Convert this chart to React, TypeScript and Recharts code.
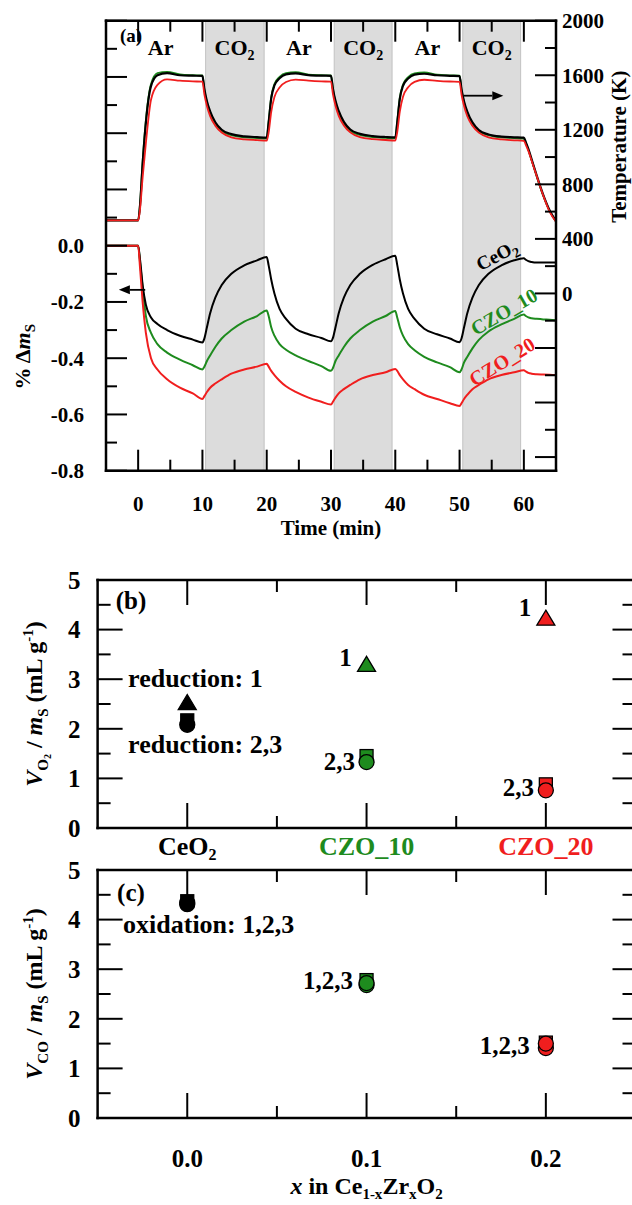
import React from "react";
import {
  ComposedChart,
  ScatterChart,
  Line,
  Scatter,
  XAxis,
  YAxis,
  ReferenceArea,
  ReferenceDot,
  ReferenceLine,
} from "recharts";

const SERIF = "'Liberation Serif', 'Times New Roman', Times, serif";
const INK = "#000000";
const GREEN = "#1e8b1e";
const RED = "#f01e1e";
const MAT_COLORS = [INK, GREEN, RED];

// ---------- (a) mass change + temperature vs time ----------
const times = [
  -5, 0, 0.3, 0.7, 1.2, 2, 3, 4.5, 6.5, 8.5,
  10, 10.3, 10.7, 11.2, 12, 13, 14.5, 16.5, 18.5,
  20, 20.3, 20.7, 21.2, 22, 23, 24.5, 26.5, 28.5,
  30, 30.3, 30.7, 31.2, 32, 33, 34.5, 36.5, 38.5,
  40, 40.3, 40.7, 41.2, 42, 43, 44.5, 46.5, 48.5,
  50, 50.3, 50.7, 51.2, 52, 53, 54.5, 56.5, 58.5,
  60, 60.3, 60.7, 61.2, 62, 63, 64, 65,
];

const massCeO2 = [
  0, 0, -0.05, -0.14, -0.21, -0.255, -0.278, -0.3, -0.32, -0.334,
  -0.344, -0.33, -0.29, -0.24, -0.185, -0.14, -0.1, -0.07, -0.052,
  -0.04, -0.07, -0.12, -0.17, -0.225, -0.26, -0.295, -0.315, -0.328,
  -0.34, -0.328, -0.29, -0.24, -0.185, -0.14, -0.1, -0.068, -0.048,
  -0.036, -0.068, -0.12, -0.17, -0.225, -0.26, -0.295, -0.315, -0.33,
  -0.343, -0.33, -0.29, -0.24, -0.185, -0.14, -0.1, -0.07, -0.052,
  -0.045, -0.05, -0.055, -0.058, -0.06, -0.06, -0.06, -0.06,
];
const massCZO10 = [
  0, 0, -0.06, -0.15, -0.25, -0.31, -0.35, -0.38, -0.405, -0.425,
  -0.44, -0.43, -0.41, -0.39, -0.36, -0.33, -0.3, -0.27, -0.25,
  -0.23, -0.25, -0.29, -0.32, -0.35, -0.37, -0.39, -0.41, -0.428,
  -0.445, -0.435, -0.41, -0.39, -0.36, -0.33, -0.3, -0.27, -0.25,
  -0.232, -0.255, -0.29, -0.32, -0.35, -0.372, -0.395, -0.415, -0.432,
  -0.45, -0.44, -0.415, -0.395, -0.365, -0.335, -0.305, -0.28, -0.26,
  -0.245, -0.25, -0.255, -0.258, -0.26, -0.262, -0.263, -0.265,
];
const massCZO20 = [
  0, 0, -0.08, -0.2, -0.31, -0.4, -0.44, -0.475, -0.505, -0.525,
  -0.545, -0.535, -0.52, -0.505, -0.49, -0.475, -0.455, -0.44, -0.43,
  -0.42, -0.43, -0.445, -0.46, -0.48, -0.5, -0.52, -0.54, -0.555,
  -0.565, -0.555, -0.54, -0.525, -0.51, -0.495, -0.475, -0.46, -0.45,
  -0.438, -0.445, -0.46, -0.475, -0.495, -0.51, -0.53, -0.545, -0.56,
  -0.57, -0.56, -0.545, -0.53, -0.51, -0.495, -0.475, -0.46, -0.45,
  -0.443, -0.447, -0.452, -0.455, -0.457, -0.458, -0.459, -0.46,
];

const tempCeO2 = [
  535, 535, 650, 950, 1250, 1520, 1600, 1615, 1600, 1597,
  1595, 1500, 1410, 1335, 1255, 1200, 1168, 1152, 1146,
  1143, 1255, 1430, 1525, 1578, 1606, 1613, 1601, 1597,
  1596, 1502, 1412, 1338, 1258, 1202, 1170, 1154, 1147,
  1144, 1252, 1425, 1522, 1576, 1605, 1611, 1600, 1596,
  1594, 1498, 1408, 1334, 1254, 1198, 1166, 1150, 1145,
  1142, 1110, 1060, 985, 865, 725, 610, 530,
];
const tempCZO10 = [
  535, 535, 660, 970, 1270, 1535, 1615, 1625, 1606, 1600,
  1598, 1495, 1400, 1325, 1245, 1190, 1160, 1145, 1139,
  1136, 1260, 1440, 1535, 1588, 1616, 1622, 1605, 1600,
  1598, 1497, 1402, 1328, 1248, 1193, 1162, 1146, 1140,
  1137, 1258, 1435, 1532, 1586, 1614, 1620, 1604, 1599,
  1597, 1494, 1399, 1325, 1246, 1190, 1160, 1144, 1139,
  1136, 1105, 1052, 978, 858, 718, 605, 528,
];
const tempCZO20 = [
  535, 535, 620, 850, 1100, 1420, 1530, 1570, 1560, 1555,
  1553, 1460, 1375, 1300, 1230, 1180, 1145, 1130, 1124,
  1120, 1180, 1330, 1440, 1510, 1550, 1568, 1560, 1555,
  1553, 1461, 1377, 1302, 1232, 1181, 1146, 1131, 1125,
  1121, 1182, 1332, 1442, 1512, 1551, 1567, 1559, 1554,
  1552, 1459, 1374, 1299, 1229, 1179, 1144, 1129, 1123,
  1119, 1090, 1045, 975, 860, 720, 600, 525,
];

const co2Windows: [number, number][] = [
  [10.5, 19.6],
  [30.5, 39.5],
  [50.5, 59.5],
];
const gasNames = ["Ar", "CO2", "Ar", "CO2", "Ar", "CO2"];
const gasLabelTimes = [3.5, 15, 25, 35, 45, 55];

const timeTicks = [0, 5, 10, 15, 20, 25, 30, 35, 40, 45, 50, 55, 60];
const massTicks = [
  -0.8, -0.7, -0.6, -0.5, -0.4, -0.3, -0.2, -0.1, 0, 0.1, 0.2, 0.3, 0.4, 0.5, 0.6, 0.7, 0.8,
];
const tempTicks = [
  -1200, -1000, -800, -600, -400, -200, 0, 200, 400, 600, 800, 1000, 1200, 1400, 1600, 1800, 2000,
];

// ---------- (b), (c) released gas volumes ----------
const materials = ["CeO2", "CZO_10", "CZO_20"];
const zrFraction = [0, 0.1, 0.2];
const reductionRun1 = [2.54, 3.31, 4.24];
const reductionRun2 = [2.17, 1.45, 0.88];
const reductionRun3 = [2.08, 1.33, 0.76];
const oxidationRun1 = [4.31, 2.68, 1.41];
const oxidationRun2 = [4.37, 2.78, 1.52];
const oxidationRun3 = [4.34, 2.72, 1.5];
const fracTicks = [0, 0.05, 0.1, 0.15, 0.2];
const volTicks = [0, 0.5, 1, 1.5, 2, 2.5, 3, 3.5, 4, 4.5, 5];

const AXIS = { stroke: INK, strokeWidth: 2.5, strokeLinecap: "square" as const };

// "CeO2" -> CeO with subscript 2
function chem(s: string, sub = 14) {
  const m = s.match(/^(.*?[A-Za-z])(\d)$/);
  if (!m) return s;
  return [
    <tspan key="a">{m[1]}</tspan>,
    <tspan key="b" dy={5} fontSize={sub}>
      {m[2]}
    </tspan>,
  ];
}

type Side = "left" | "right" | "top" | "bottom";

// inward ticks (long/short) drawn from the axis line, optional label outside
function axisTicks(
  side: Side,
  long: number,
  short: number,
  isMajor: (v: number) => boolean,
  label?: (v: number) => React.ReactNode,
  gap = 0,
  fontSize = 20
) {
  return (p: any) => {
    const v = Number(p.payload.value);
    const len = isMajor(v) ? long : short;
    const { x, y } = p;
    let x2 = x;
    let y2 = y;
    let tx = x;
    let ty = y;
    let anchor: "start" | "middle" | "end" = "middle";
    if (side === "bottom") {
      y2 = y - len;
      ty = y + gap;
    } else if (side === "top") {
      y2 = y + len;
      ty = y - gap;
    } else if (side === "left") {
      x2 = x + len;
      tx = x - gap;
      anchor = "end";
    } else {
      x2 = x - len;
      tx = x + gap;
      anchor = "start";
    }
    const txt = label ? label(v) : null;
    return (
      <g>
        <line x1={x} y1={y} x2={x2} y2={y2} stroke={INK} strokeWidth={2} />
        {txt != null && (
          <text
            x={tx}
            y={ty}
            dy="0.35em"
            textAnchor={anchor}
            fontFamily={SERIF}
            fontWeight="bold"
            fontSize={fontSize}
            fill={INK}
          >
            {txt}
          </text>
        )}
      </g>
    );
  };
}

function note(
  key: string,
  xId: string,
  yId: string,
  x: number,
  y: number,
  content: React.ReactNode,
  opts: { size?: number; anchor?: "start" | "middle" | "end"; angle?: number; fill?: string } = {}
) {
  return (
    <ReferenceDot
      key={key}
      xAxisId={xId}
      yAxisId={yId}
      x={x}
      y={y}
      r={0}
      ifOverflow="visible"
      isFront
      shape={(p: any) => (
        <text
          x={p.cx}
          y={p.cy}
          dy="0.35em"
          textAnchor={opts.anchor ?? "middle"}
          fontFamily={SERIF}
          fontWeight="bold"
          fontSize={opts.size ?? 25}
          fill={opts.fill ?? INK}
          transform={opts.angle ? `rotate(${opts.angle} ${p.cx} ${p.cy})` : undefined}
        >
          {content}
        </text>
      )}
    />
  );
}

const Arrow = (p: any) => {
  const { x1, y1, x2, y2 } = p;
  const ang = Math.atan2(y2 - y1, x2 - x1);
  const L = 11;
  const W = 4.5;
  const bx = x2 - L * Math.cos(ang);
  const by = y2 - L * Math.sin(ang);
  const px = -Math.sin(ang) * W;
  const py = Math.cos(ang) * W;
  return (
    <g>
      <line x1={x1} y1={y1} x2={bx} y2={by} stroke={INK} strokeWidth={1.8} />
      <polygon points={`${x2},${y2} ${bx + px},${by + py} ${bx - px},${by - py}`} fill={INK} />
    </g>
  );
};

const isEven02 = (v: number) => Math.round(v * 10) % 2 === 0;

function PanelA() {
  const rows = times.map((t, i) => ({
    t,
    mCe: massCeO2[i],
    m10: massCZO10[i],
    m20: massCZO20[i],
    TCe: tempCeO2[i],
    T10: tempCZO10[i],
    T20: tempCZO20[i],
  }));
  return (
    <ComposedChart
      width={632}
      height={560}
      data={rows}
      margin={{ top: 0.7, right: 36, bottom: 59.3, left: 66 }}
    >
      {co2Windows.map(([a, b]) => (
        <ReferenceArea
          key={a}
          xAxisId="b"
          yAxisId="m"
          x1={a}
          x2={b}
          fill="#dcdcdc"
          fillOpacity={1}
          stroke="#c2c2c2"
          strokeWidth={1}
          ifOverflow="visible"
        />
      ))}
      <XAxis
        xAxisId="b"
        dataKey="t"
        type="number"
        domain={[-5, 65]}
        allowDataOverflow
        ticks={timeTicks}
        interval={0}
        height={30}
        tickSize={0}
        tickMargin={0}
        tickLine={false}
        axisLine={AXIS}
        tick={axisTicks("bottom", 21, 11, (v) => v % 10 === 0, (v) => (v % 10 === 0 ? String(v) : null), 33, 21)}
        label={(p: any) => {
          const vb = p.viewBox ?? { x: 0, y: 0, width: 0 };
          return (
            <text x={vb.x + vb.width / 2} y={vb.y + 57} dy="0.35em" textAnchor="middle" fontFamily={SERIF} fontWeight="bold" fontSize={21}>
              Time (min)
            </text>
          );
        }}
      />
      <XAxis
        xAxisId="t"
        orientation="top"
        dataKey="t"
        type="number"
        domain={[-5, 65]}
        allowDataOverflow
        ticks={timeTicks}
        interval={0}
        height={20}
        tickSize={0}
        tickMargin={0}
        tickLine={false}
        axisLine={AXIS}
        tick={axisTicks("top", 21, 11, (v) => v % 10 === 0)}
      />
      <YAxis
        yAxisId="m"
        type="number"
        domain={[-0.8, 0.8]}
        allowDataOverflow
        ticks={massTicks}
        interval={0}
        width={40}
        tickSize={0}
        tickMargin={0}
        tickLine={false}
        axisLine={AXIS}
        tick={axisTicks("left", 21, 11, isEven02, (v) => (isEven02(v) && v <= 0 ? (v === 0 ? "0.0" : v.toFixed(1)) : null), 22, 21)}
        label={(p: any) => {
          const vb = p.viewBox ?? { x: 0, y: 0, width: 0 };
          const cx = vb.x + vb.width - 84;
          const cy = vb.y + 336;
          return (
            <text x={cx} y={cy} dy="0.35em" textAnchor="middle" fontFamily={SERIF} fontWeight="bold" fontSize={22} transform={`rotate(-90 ${cx} ${cy})`}>
              <tspan>% Δ</tspan>
              <tspan fontStyle="italic">m</tspan>
              <tspan dy={5} fontSize={15}>S</tspan>
            </text>
          );
        }}
      />
      <YAxis
        yAxisId="T"
        orientation="right"
        type="number"
        domain={[-1300, 2000]}
        allowDataOverflow
        ticks={tempTicks}
        interval={0}
        width={40}
        tickSize={0}
        tickMargin={0}
        tickLine={false}
        axisLine={AXIS}
        tick={axisTicks("right", 21, 11, (v) => v % 400 === 0, (v) => (v >= 0 && v % 400 === 0 ? String(v) : null), 6, 21)}
        label={(p: any) => {
          const vb = p.viewBox ?? { x: 0, y: 0, width: 0 };
          const cx = vb.x + 63;
          const cy = vb.y + 126;
          return (
            <text x={cx} y={cy} dy="0.35em" textAnchor="middle" fontFamily={SERIF} fontWeight="bold" fontSize={21} transform={`rotate(-90 ${cx} ${cy})`}>
              Temperature (K)
            </text>
          );
        }}
      />

      <Line xAxisId="b" yAxisId="T" dataKey="T10" type="monotone" stroke={GREEN} strokeWidth={1.8} dot={false} isAnimationActive={false} />
      <Line xAxisId="b" yAxisId="T" dataKey="TCe" type="monotone" stroke={INK} strokeWidth={2.2} dot={false} isAnimationActive={false} />
      <Line xAxisId="b" yAxisId="T" dataKey="T20" type="monotone" stroke={RED} strokeWidth={1.8} dot={false} isAnimationActive={false} />
      <Line xAxisId="b" yAxisId="m" dataKey="m10" type="monotone" stroke={GREEN} strokeWidth={2} dot={false} isAnimationActive={false} />
      <Line xAxisId="b" yAxisId="m" dataKey="mCe" type="monotone" stroke={INK} strokeWidth={2} dot={false} isAnimationActive={false} />
      <Line xAxisId="b" yAxisId="m" dataKey="m20" type="monotone" stroke={RED} strokeWidth={2} dot={false} isAnimationActive={false} />

      <ReferenceLine
        xAxisId="b"
        yAxisId="T"
        segment={[{ x: 50.6, y: 1450 }, { x: 56.8, y: 1450 }]}
        shape={Arrow}
        ifOverflow="visible"
      />
      <ReferenceLine
        xAxisId="b"
        yAxisId="m"
        segment={[{ x: 1.1, y: -0.157 }, { x: -3.0, y: -0.157 }]}
        shape={Arrow}
        ifOverflow="visible"
      />

      {note("a-tag", "b", "m", -1.1, 0.749, "(a)", { size: 19 })}
      {gasNames.map((g, i) => note(`gas${i}`, "b", "m", gasLabelTimes[i], 0.7065, chem(g, 14), { size: 22 }))}
      {note("lbl-ce", "b", "m", 55.8, -0.033, chem("CeO2", 14), { size: 19, angle: -28 })}
      {note("lbl-10", "b", "m", 56.9, -0.234, "CZO_10", { size: 20, angle: -30, fill: GREEN })}
      {note("lbl-20", "b", "m", 56.6, -0.412, "CZO_20", { size: 20, angle: -32, fill: RED })}
    </ComposedChart>
  );
}

const markerColor = (p: any) => MAT_COLORS[p.payload?.k ?? 0];
const Tri = (p: any) => {
  const { cx, cy } = p;
  const w = 18;
  const h = 15;
  return (
    <polygon
      points={`${cx},${cy - h / 2} ${cx + w / 2},${cy + h / 2} ${cx - w / 2},${cy + h / 2}`}
      fill={markerColor(p)}
      stroke={INK}
      strokeWidth={1.3}
    />
  );
};
const Sq = (p: any) => (
  <rect x={p.cx - 6.5} y={p.cy - 6.5} width={13} height={13} fill={markerColor(p)} stroke={INK} strokeWidth={1.3} />
);
const Circ = (p: any) => <circle cx={p.cx} cy={p.cy} r={7.5} fill={markerColor(p)} stroke={INK} strokeWidth={1.3} />;

const pts = (vals: number[]) => zrFraction.map((x, i) => ({ x, y: vals[i], k: i }));
const matIndex = (v: number) => zrFraction.findIndex((z) => Math.abs(z - v) < 1e-9);

function bcAxes(bottomTick: any, bottomTitle: ((p: any) => React.ReactNode) | undefined, yTitle: React.ReactNode) {
  return [
    <XAxis
      key="xb"
      xAxisId="b"
      dataKey="x"
      type="number"
      domain={[-0.05, 0.25]}
      allowDataOverflow
      ticks={fracTicks}
      interval={0}
      height={30}
      tickSize={0}
      tickMargin={0}
      tickLine={false}
      axisLine={AXIS}
      tick={bottomTick}
      label={bottomTitle}
    />,
    <XAxis
      key="xt"
      xAxisId="t"
      orientation="top"
      dataKey="x"
      type="number"
      domain={[-0.05, 0.25]}
      allowDataOverflow
      ticks={fracTicks}
      interval={0}
      height={20}
      tickSize={0}
      tickMargin={0}
      tickLine={false}
      axisLine={AXIS}
      tick={axisTicks("top", 25, 12, (v) => matIndex(v) >= 0)}
    />,
    <YAxis
      key="yl"
      yAxisId="l"
      dataKey="y"
      type="number"
      domain={[0, 5]}
      allowDataOverflow
      ticks={volTicks}
      interval={0}
      width={40}
      tickSize={0}
      tickMargin={0}
      tickLine={false}
      axisLine={AXIS}
      tick={axisTicks("left", 25, 13, (v) => Number.isInteger(v), (v) => (Number.isInteger(v) ? String(v) : null), 17, 25)}
      label={(p: any) => {
        const vb = p.viewBox ?? { x: 0, y: 0, width: 0, height: 0 };
        const cx = vb.x + vb.width - 64;
        const cy = vb.y + vb.height / 2;
        return (
          <text x={cx} y={cy} dy="0.35em" textAnchor="middle" fontFamily={SERIF} fontWeight="bold" fontSize={24} transform={`rotate(-90 ${cx} ${cy})`}>
            {yTitle}
          </text>
        );
      }}
    />,
    <YAxis
      key="yr"
      yAxisId="r"
      orientation="right"
      dataKey="y"
      type="number"
      domain={[0, 5]}
      allowDataOverflow
      ticks={volTicks}
      interval={0}
      width={20}
      tickSize={0}
      tickMargin={0}
      tickLine={false}
      axisLine={AXIS}
      tick={axisTicks("right", 23, 13, (v) => Number.isInteger(v))}
    />,
  ];
}

function PanelB() {
  const bottom = axisTicks(
    "bottom",
    25,
    12,
    (v) => matIndex(v) >= 0,
    (v) => {
      const i = matIndex(v);
      return i < 0 ? null : <tspan fill={MAT_COLORS[i]}>{chem(materials[i], 16)}</tspan>;
    },
    18,
    26
  );
  const yTitle = [
    <tspan key="v" fontStyle="italic">V</tspan>,
    <tspan key="o" dy={6} fontSize={15}>O</tspan>,
    <tspan key="2" dy={3} fontSize={10}>2</tspan>,
    <tspan key="s" dy={-9}> / </tspan>,
    <tspan key="m" fontStyle="italic">m</tspan>,
    <tspan key="S" dy={6} fontSize={15}>S</tspan>,
    <tspan key="u" dy={-6}> (mL g</tspan>,
    <tspan key="e" dy={-9} fontSize={15}>-1</tspan>,
    <tspan key="c" dy={9}>)</tspan>,
  ];
  return (
    <ScatterChart width={700} height={340} margin={{ top: 20, right: 44.5, bottom: 22, left: 57.6 }}>
      {bcAxes(bottom, undefined, yTitle)}
      <Scatter xAxisId="b" yAxisId="l" data={pts(reductionRun1)} shape={Tri} isAnimationActive={false} />
      <Scatter xAxisId="b" yAxisId="l" data={pts(reductionRun2)} shape={Sq} isAnimationActive={false} />
      <Scatter xAxisId="b" yAxisId="l" data={pts(reductionRun3)} shape={Circ} isAnimationActive={false} />
      {note("b-tag", "b", "l", -0.0314, 4.6, "(b)")}
      {note("b-r1", "b", "l", -0.033, 3.02, "reduction: 1", { anchor: "start", size: 26 })}
      {note("b-r23", "b", "l", -0.033, 1.7, "reduction: 2,3", { anchor: "start", size: 26 })}
      {note("b-g1", "b", "l", 0.0883, 3.45, "1")}
      {note("b-r1b", "b", "l", 0.1884, 4.45, "1")}
      {note("b-g23", "b", "l", 0.0935, 1.355, "2,3", { anchor: "end" })}
      {note("b-r23b", "b", "l", 0.1934, 0.817, "2,3", { anchor: "end" })}
    </ScatterChart>
  );
}

function PanelC() {
  const bottom = axisTicks(
    "bottom",
    25,
    12,
    (v) => matIndex(v) >= 0,
    (v) => (matIndex(v) >= 0 ? v.toFixed(1) : null),
    40,
    25
  );
  const xTitle = (p: any) => {
    const vb = p.viewBox ?? { x: 0, y: 0, width: 0 };
    return (
      <text x={vb.x + vb.width / 2} y={vb.y + 68} dy="0.35em" textAnchor="middle" fontFamily={SERIF} fontWeight="bold" fontSize={24}>
        <tspan fontStyle="italic">x</tspan>
        <tspan>{" in Ce"}</tspan>
        <tspan dy={5} fontSize={15}>1-x</tspan>
        <tspan dy={-5}>Zr</tspan>
        <tspan dy={5} fontSize={15}>x</tspan>
        <tspan dy={-5}>O</tspan>
        <tspan dy={5} fontSize={15}>2</tspan>
      </text>
    );
  };
  const yTitle = [
    <tspan key="v" fontStyle="italic">V</tspan>,
    <tspan key="o" dy={6} fontSize={15}>CO</tspan>,
    <tspan key="s" dy={-6}> / </tspan>,
    <tspan key="m" fontStyle="italic">m</tspan>,
    <tspan key="S" dy={6} fontSize={15}>S</tspan>,
    <tspan key="u" dy={-6}> (mL g</tspan>,
    <tspan key="e" dy={-9} fontSize={15}>-1</tspan>,
    <tspan key="c" dy={9}>)</tspan>,
  ];
  return (
    <ScatterChart width={700} height={375} margin={{ top: 20, right: 44.5, bottom: 57, left: 57.6 }}>
      {bcAxes(bottom, xTitle, yTitle)}
      <Scatter xAxisId="b" yAxisId="l" data={pts(oxidationRun2)} shape={Sq} isAnimationActive={false} />
      <Scatter xAxisId="b" yAxisId="l" data={pts(oxidationRun1)} shape={Circ} isAnimationActive={false} />
      <Scatter xAxisId="b" yAxisId="l" data={pts(oxidationRun3)} shape={Circ} isAnimationActive={false} />
      {note("c-tag", "b", "l", -0.0314, 4.56, "(c)")}
      {note("c-ox", "b", "l", -0.0358, 3.92, "oxidation: 1,2,3", { anchor: "start", size: 26 })}
      {note("c-g", "b", "l", 0.0925, 2.77, "1,2,3", { anchor: "end" })}
      {note("c-r", "b", "l", 0.191, 1.47, "1,2,3", { anchor: "end" })}
    </ScatterChart>
  );
}

export default function App() {
  return (
    <div style={{ position: "relative", width: 632, height: 1205, overflow: "hidden", background: "#fff" }}>
      <style>{"html,body{margin:0;padding:0;overflow:hidden;background:#fff}"}</style>
      <div style={{ position: "absolute", left: 0, top: 0 }}>
        <PanelA />
      </div>
      <div style={{ position: "absolute", left: 0, top: 540 }}>
        <PanelB />
      </div>
      <div style={{ position: "absolute", left: 0, top: 830 }}>
        <PanelC />
      </div>
    </div>
  );
}
